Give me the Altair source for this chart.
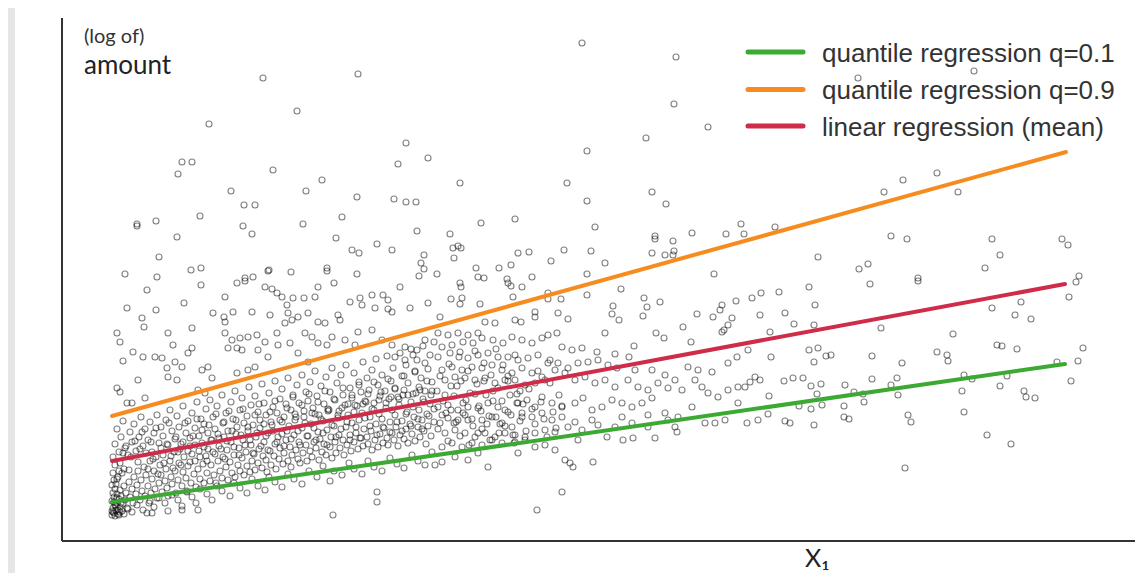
import altair as alt
import pandas as pd

# ---------------- data (X1 and log-amount, arbitrary units) ----------------
upper_left = [(201,463),(296,467),(235,430),(147,417),(344,398),(366,383),(336,377),(120,379),(130,379),(116,367),
 (211,371),(260,361),(169,350),(244,350),(295,344),(332,342),(344,339),(354,339),(182,336),(193,336),(138,325),
 (280,324),(75,317),(75,315),(94,320),(181,315),(190,307),(241,317),(115,304),(274,303),(355,310),(315,297),
 (290,291),(297,288),(330,291),(97,284),(362,286),(359,278),(362,272),(357,265),(63,267),(95,264),(129,271),
 (139,273),(206,270),(207,271),(229,269),(265,273),(265,270),(295,267),(191,264),(183,263)]

upper_mid = [(520,498),(614,484),(612,437),(646,414),(584,403),(525,390),(398,358),(505,358),(590,349),(525,340),
 (604,337),(419,318),(453,322),(388,307),(533,314),(679,317),(682,307),(664,307),(630,308),(593,305),(593,302),
 (611,300),(391,293),(396,295),(399,293),(392,283),(456,288),(467,289),(502,291),(529,290),(590,288),(603,286),
 (611,286),(612,290),(489,280),(543,278),(414,273),(437,273),(449,276),(525,267),(470,264),(416,264),(422,263),
 (445,262),(652,267),(375,267)]

upper_right = [(796,463),(912,470),(841,361),(875,368),(822,349),(896,349),(713,314),(829,305),(845,302),(930,302),
 (1000,302),(1006,296),(756,284),(938,286),(797,272),(806,277),(923,273),(1017,265),(856,263)]

right_low = [(717,249),(747,254),(808,257),(856,260),(1014,259),(753,236),(723,228),(732,217),(752,216),(708,209),
 (930,233),(959,239),(1007,244),(953,226),(969,222),(819,213),(891,207),(747,191),(756,193),(764,185),(769,186),
 (709,184),(752,179),(810,185),(840,178),(875,189),(885,186),(886,180),(935,196),(940,195),(955,192),(1021,193),
 (1016,180),(995,179),(722,160),(731,163),(741,163),(749,155),(759,157),(783,156),(810,162),(835,163),(829,156),
 (902,166),(910,162),(945,165),(1009,160),(707,145),(755,147),(792,149),(801,147),(836,146),(900,150),(938,155),
 (962,150),(964,144),(973,143),(737,135),(749,132),(760,136),(782,135),(802,139),(706,127),(723,120),(728,118),
 (752,116),(782,124),(787,122),(846,126),(849,119),(902,129),(925,106),(949,97),(843,73)]

mid_top = [(398,258),(399,254),(389,242),(400,243),(398,237),(378,224),(418,237),(446,258),(449,255),(460,254),
 (451,244),(486,248),(486,242),(499,242),(525,246),(559,252),(582,243),(585,234),(598,239),(551,235),(550,227),
 (557,221),(581,225),(635,227),(651,224),(660,236),(658,231),(674,240),(690,243),(699,248),(698,226),(670,223),
 (666,216),(621,214),(629,199),(594,208),(602,203),(660,209),(662,211),(543,208),(572,195),(553,187),(567,184),
 (535,189),(473,229),(473,224),(496,228),(506,222),(453,221),(459,219),(423,219),(433,218)]

mid_band = [(376,208),(386,206),(396,208),(406,206),(416,208),(401,199),(411,198),(420,203),(431,201),(441,198),
 (450,204),(460,201),(470,198),(480,203),(486,206),(495,208),(500,194),(510,191),(520,193),(380,194),(390,196),
 (376,184),(388,188),(398,189),(406,183),(416,186),(426,188),(436,184),(446,184),(456,181),(466,183),(476,186),
 (488,181),(496,178),(506,173),(516,178),(526,179),(536,181),(546,176),(555,173),(573,171),(590,171),(603,166),
 (613,161),(626,174),(636,171),(650,169),(666,178),(675,184),(686,191),(693,164),(688,159),(698,161),(683,154),
 (380,171),(390,174),(400,171),(410,174),(420,173),(430,176),(440,171),(450,168),(460,173),(470,168),(480,164),
 (486,178),(493,171),(383,161),(393,164),(403,163),(413,161),(423,163),(433,158),(443,161),(453,161),(463,156),
 (473,158),(483,161),(503,168),(513,161),(523,164),(533,158),(543,161),(553,154),(566,161),(576,154),(586,151),
 (596,158),(606,153),(620,151),(633,161),(640,154),(646,148),(656,144),(666,151),(676,154),
 (375,150),(378,165),(381,140),(384,128),(387,177),(389,155),(392,145),(394,119),(397,184),(399,160),(401,138),
 (403,126),(406,170),(408,148),(411,115),(413,190),(415,157),(417,135),(420,112),(422,178),(424,146),(427,125),
 (429,166),(431,140),(434,192),(436,153),(438,117),(441,176),(443,131),(446,160),(448,146),(451,106),(453,186),
 (455,138),(458,150),(460,128)]

mid_low = [(376,134),(386,136),(396,131),(406,134),(416,133),(426,138),(436,134),(446,129),(456,138),(465,141),
 (473,134),(480,144),(490,138),(500,134),(513,138),(521,143),(530,131),(540,134),(550,141),(560,138),(570,134),
 (580,138),(590,143),(603,128),(613,114),(630,134),(643,118),(653,118),(663,121),(676,138),(685,118),(696,121),
 (616,124),(586,126),(570,118),(560,124),(530,121),(513,119),(500,124),(490,121),(480,128),(470,124),(460,124),
 (450,114),(440,118),(430,124),(420,121),(406,121),(396,121),(386,123),(378,118),(383,108),(393,111),(403,108),
 (413,104),(423,108),(433,104),(443,108),(453,106),(463,104),(473,108),(483,111),(493,109),(506,114),(520,111),
 (536,116),(553,114),(586,114),(606,121),(615,109),
 (380,79),(393,84),(406,81),(426,74),(416,88),(456,88),(473,94),(483,96),(493,91),(503,81),(508,78),(511,74),
 (531,79),(561,101),(571,103),(593,103),(500,49),(475,31),(373,76),(380,94),(390,98),(400,94),(410,98),(420,96),
 (430,101),(440,98),(453,99),(463,101),(516,101),(545,104)]

left_top = [(85,251),(139,256),(175,258),(183,260),(203,254),(210,252),(215,248),(65,233),(94,231),(122,238),
 (80,223),(82,214),(151,228),(162,224),(163,219),(171,229),(190,229),(163,244),(220,244),(231,243),(242,243),
 (253,244),(225,236),(226,228),(236,224),(246,228),(256,254),(272,258),(208,226),(223,218),(230,221),(256,219),
 (263,218),(276,226),(278,221),(288,239),(298,243),(300,236),(310,246),(321,246),(326,241),(313,233),(326,232),
 (330,229),(338,254),(348,233),(366,238),(296,209),(310,211),(55,208),(58,199),(106,208),(111,196),(130,213),
 (71,189),(81,184),(93,184),(100,183),(61,180),(113,179),(126,188),(130,193),(163,208),(170,201),(178,203),
 (186,204),(195,206),(203,199),(166,193),(175,193),(180,191),(196,191),(206,184),(215,208),(216,196),(243,208),
 (250,204),(256,198),(265,196),(228,198),(236,188),(246,179),(105,173),(106,164),(115,161),(120,174),(140,171),
 (146,174),(55,153),(58,149),(65,138),(70,138),(83,143),(76,161),(150,163),(175,168),(136,151),(143,148),
 (186,171),(193,174),(270,204),(283,201),(293,196),(320,201),(330,196),(343,194),(355,191),(363,201),(333,184),
 (343,181),(351,186),(363,178)]

left_band = [(51,84),(53,97),(55,112),(57,89),(59,104),(61,120),(63,93),(66,86),(68,109),(70,99),(72,117),(74,90),
 (77,104),(79,124),(81,95),(83,112),(86,101),(88,119),(90,89),(92,108),(95,126),(97,98),(99,114),(101,105),
 (104,121),(106,96),(108,131),(110,110),(113,102),(115,125),(117,114),(119,97),(121,135),(124,108),(126,120),
 (128,103),(130,128),(133,113),(135,139),(137,105),(139,122),(142,117),(144,132),(146,108),(148,141),(151,124),
 (153,112),(155,135),(157,103),(160,146),(162,119),(164,128),(166,110),(169,139),(171,122),(173,150),(175,114),
 (178,131),(180,143),(182,118),(185,125),(187,154),(189,136),(191,116),(193,145),(196,129),(198,121),(200,157),
 (202,138),(204,126),(207,148),(209,119),(211,134),(213,160),(215,128),(218,142),(220,152),(222,124),(224,137),
 (226,163),(229,131),(231,146),(233,127),(235,156),(237,138),(240,166),(242,130),(244,149),(246,140),(248,159),
 (251,133),(253,170),(255,145),(257,126),(259,155),(262,137),(264,164),(266,132),(268,149),(270,173),(273,141),
 (275,158),(277,130),(279,166),(281,146),(284,176),(286,137),(288,153),(290,143),(292,168),(295,135),(297,159),
 (299,149),(301,179),(303,140),(305,163),(307,151),(310,171),(312,138),(314,182),(316,156),(318,145),(320,166),
 (323,150),(325,185),(327,142),(329,160),(331,173),(333,153),(336,144),(338,188),(340,165),(342,151),(344,176),
 (346,158),(349,192),(351,147),(353,169),(355,181),(357,154),(359,163),(361,195),(363,150),(366,172),(368,186),
 (370,159),(372,199)]

left_core = [(50,30),(51,33),(52,28),(53,36),(50,40),(52,44),(54,31),(55,38),(56,27),(57,42),(58,34),(51,48),(53,52),
 (55,47),(50,56),(52,61),(54,57),(56,64),(58,51),(59,45),(60,30),(61,37),(62,55),(63,41),(64,48),(60,68),(62,72),
 (57,70),(51,68),(53,76),(65,33),(67,59),(68,44),(70,52),(71,38),(72,64),(74,47),(75,56),(76,70),(78,41),(79,61),
 (80,50),(82,74),(83,45),(84,66),(86,55),(87,38),(88,80),(89,48),(90,62),(92,70),(93,52),(94,84),(95,43),(97,58),
 (98,76),(99,66),(100,49),(101,86),(103,60),(104,72),(105,53),(106,45),(108,80),(109,64),(110,57),(112,89),
 (113,70),(114,48),(116,61),(117,78),(118,92),(120,55),(121,69),(122,84),(124,63),(125,50),(126,75),(128,95),
 (129,58),(130,87),(132,67),(133,80),(134,54),(136,72),(137,90),(138,62),(140,98),(141,77),(142,58),(144,85),
 (145,68),(146,92),(148,60),(149,76),(150,101),(152,66),(153,87),(154,58),(156,80),(157,95),(158,70),(160,63),
 (161,84),(162,104),(164,74),(165,91),(166,61),(168,79),(169,99),(170,68),(172,86),(173,64),(174,107),(176,76),
 (177,93),(178,70),(180,83),(181,101),(182,66),(184,89),(185,75),(186,110),(188,69),(189,96),(190,80),(192,87),
 (193,71),(194,104),(196,78),(197,92),(198,113),(200,73),(201,85),(202,99),(204,81),(205,69),(206,108),(208,90),
 (209,76),(210,116),(212,85),(213,97),(214,72),(216,104),(217,82),(218,93),(220,119),(221,77),(222,88),(224,101),
 (225,110),(226,80),(228,94),(229,74),(230,86),(232,106),(233,121),(234,91),(236,82),(237,99),(238,78),(240,113),
 (241,88),(242,124),(244,96),(245,80),(246,105),(248,90),(249,117),(250,84),(252,99),(253,127),(254,93),(256,109),
 (257,81),(258,102),(260,89),(261,120),(262,97),(264,86),(265,111),(266,130),(268,94),(269,104),(270,83),(272,115),
 (273,99),(274,88),(276,123),(277,106),(278,93),(280,133),(281,101),(282,86),(284,114),(285,96),(286,126),(288,106),
 (289,90),(290,118),(292,99),(293,136),(294,108),(296,92),(297,121),(298,103),(300,128),(301,95),(302,112),
 (304,139),(305,104),(306,97),(308,124),(309,110),(310,91),(312,131),(313,101),(314,117),(316,94),(317,141),
 (318,107),(320,122),(321,98),(322,113),(324,133),(325,103),(326,96),(328,119),(329,144),(330,108),(332,101),
 (333,126),(334,114),(336,95),(337,136),(338,106),(340,120),(341,146),(342,102),(344,112),(345,129),(346,98),
 (348,117),(349,139),(350,107),(352,124),(353,100),(354,148),(356,114),(357,131),(358,104),(360,121),(361,142),
 (362,110),(364,97),(365,127),(366,115),(368,137),(369,105),(370,150),(372,119)]

core_extra = [(55,62),(58,78),(61,88),(64,95),(67,71),(69,84),(73,100),(76,79),(78,92),(80,109),(84,88),(86,72),
 (89,99),(91,82),(94,113),(96,67),(99,93),(102,78),(105,97),(107,118),(109,85),(111,73),(114,104),(116,89),
 (119,76),(121,99),(123,118),(126,90),(128,79),(131,105),(133,96),(135,122),(138,84),(140,111),(142,94),(145,80),
 (147,116),(149,101),(151,89),(154,127),(156,107),(159,92),(161,118),(163,82),(165,100),(167,130),(170,110),
 (172,94),(174,121),(177,86),(179,106),(181,132),(183,96),(186,114),(188,101),(191,88),(193,126),(195,108),
 (197,137),(199,95),(202,117),(204,105),(206,91),(208,129),(211,110),(213,140),(215,99),(218,121),(220,107),
 (222,95),(225,133),(227,115),(229,102),(231,144),(234,124),(236,110),(238,96),(240,136),(243,118),(245,105),
 (247,147),(250,128),(252,113),(254,101),(256,139),(259,122),(261,108),(263,150),(265,96),(267,131),(270,116),
 (272,142),(274,104),(276,126),(279,112),(281,153),(283,136),(285,119),(288,101),(290,146),(292,129),(294,114),
 (297,156),(299,103),(301,137),(303,123),(306,147),(308,115),(310,132),(312,159),(315,106),(317,127),(319,149),
 (321,114),(324,138),(326,162),(328,109),(330,131),(333,152),(335,119),(337,142),(340,110),(342,165),(344,127),
 (346,146),(349,115),(351,134),(353,170),(356,122),(358,151),(360,112),(362,139),(365,160),(367,125),(369,146),
 (372,132),(376,112),(380,126),(383,146),(386,100),(389,131),(392,118),(395,155),(398,105),(401,128),(404,141),
 (407,96),(410,122),(413,147),(416,108),(419,130),(422,160),(425,117),(428,101),(431,150),(434,124),(437,108),
 (440,140),(443,115),(446,165),(449,126),(452,98),(455,147),(458,120),(461,137),(464,110),(467,152),(470,132),
 (473,117),(476,170),(479,139),(482,122),(485,104),(488,158),(491,129),(494,113),(497,146),(500,135),
 (50,26),(51,29),(53,25),(54,35),(56,31),(57,26),(59,38),(52,39),(55,43),(58,29)]

left_low = [(62,27),(66,32),(70,29),(75,36),(81,31),(88,40),(92,34),(97,43),(103,38),(106,30),(110,46),(116,41),
 (120,35),(125,49),(130,44),(134,38),(138,52),(145,47),(150,41),(155,55),(160,50),(168,45),(172,58),(178,53),
 (185,48),(190,62),(196,55),(203,51),(207,64),(213,59),(220,54),(226,67),(232,62),(240,57),(247,70),(255,64),
 (261,75),(268,60),(272,70),(280,66),(287,78),(292,72),(300,67),(306,80),(312,74),(320,70),(328,83),(335,77),
 (342,73),(350,86),(356,80),(363,76),(370,89),(271,26),(315,39),(315,49),(136,31),(90,28),(85,28),(120,31)]

series = ["quantile regression q=0.1", "quantile regression q=0.9", "linear regression (mean)"]
colors = ["#3caa32", "#f68c1f", "#cf2c4a"]
fit_x_start = [50, 50, 50]
fit_x_end = [1003, 1004, 1003]
fit_y_start = [39, 125, 80]
fit_y_end = [177, 389, 257]

# ---------------- tables ----------------
all_pts = (upper_left + upper_mid + upper_right + right_low + mid_top + mid_band +
           mid_low + left_top + left_band + left_core + core_extra + left_low)
pts = pd.DataFrame(all_pts, columns=["x", "y"])

fits = pd.DataFrame(
    [{"series": s, "x": a, "y": b} for s, a, b in zip(series, fit_x_start, fit_y_start)] +
    [{"series": s, "x": a, "y": b} for s, a, b in zip(series, fit_x_end, fit_y_end)]
)

legend_df = pd.DataFrame({
    "series": series,
    "x": [686] * 3, "x2": [741] * 3,
    "y": [489, 451.5, 415],
    "ty": [479.3, 442.5, 405],
    "tx": [760] * 3,
})

axes_df = pd.DataFrame({"x": [0, 0], "x2": [0, 1073], "y": [0, 0], "y2": [523, 0]})

titles_df = pd.DataFrame({
    "t": ["(log of)", "amount", "X₁"],
    "x": [22, 22, 743],
    "y": [498, 467, -26],
    "size": [20, 26, 25],
    "col": ["#333333", "#222222", "#222222"],
})

xs = alt.Scale(domain=[-47, 1073], nice=False, zero=False)
ys = alt.Scale(domain=[-32, 533], nice=False, zero=False)
cscale = alt.Scale(domain=series, range=colors)

points = alt.Chart(pts).mark_point(
    shape="circle", filled=False, size=36, stroke="#000000", strokeOpacity=0.7, strokeWidth=1.1
).encode(
    x=alt.X("x:Q", scale=xs, axis=None),
    y=alt.Y("y:Q", scale=ys, axis=None),
)

lines = alt.Chart(fits).mark_line(strokeWidth=4, strokeCap="round").encode(
    x=alt.X("x:Q", scale=xs, axis=None),
    y=alt.Y("y:Q", scale=ys, axis=None),
    color=alt.Color("series:N", scale=cscale, legend=None),
    detail="series:N",
)

axis_lines = alt.Chart(axes_df).mark_rule(color="#333333", strokeWidth=2).encode(
    x=alt.X("x:Q", scale=xs, axis=None), x2="x2:Q",
    y=alt.Y("y:Q", scale=ys, axis=None), y2="y2:Q",
)

leg_lines = alt.Chart(legend_df).mark_rule(strokeWidth=5, strokeCap="round").encode(
    x=alt.X("x:Q", scale=xs, axis=None), x2="x2:Q",
    y=alt.Y("y:Q", scale=ys, axis=None),
    color=alt.Color("series:N", scale=cscale, legend=None),
)

leg_text = alt.Chart(legend_df).mark_text(
    align="left", baseline="alphabetic", font="Liberation Sans", fontSize=26, color="#333333"
).encode(
    x=alt.X("tx:Q", scale=xs, axis=None),
    y=alt.Y("ty:Q", scale=ys, axis=None),
    text="series:N",
)

titles = alt.Chart(titles_df).mark_text(align="left", baseline="alphabetic", font="Lato").encode(
    x=alt.X("x:Q", scale=xs, axis=None),
    y=alt.Y("y:Q", scale=ys, axis=None),
    text="t:N",
    size=alt.Size("size:Q", scale=None, legend=None),
    color=alt.Color("col:N", scale=None, legend=None),
)

chart = alt.layer(points, lines, axis_lines, leg_lines, leg_text, titles).properties(
    width=1120, height=565,
    background="#e6e6e6",
    padding={"left": 7, "top": 0, "right": 0, "bottom": 0},
    autosize=alt.AutoSizeParams(type="none"),
).configure_view(fill="white", stroke=None)

chart.save("out.html", embed_options={"renderer": "svg", "actions": False})
